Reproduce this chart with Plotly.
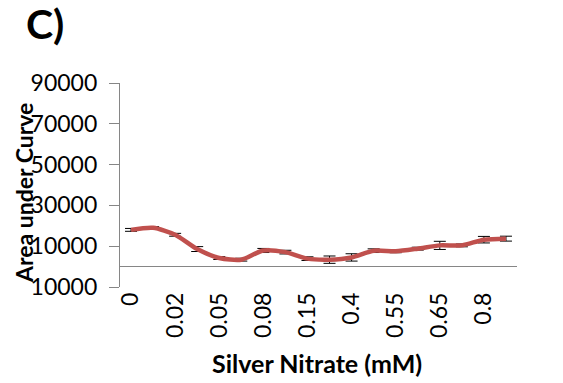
import plotly.graph_objects as go

# Silver nitrate concentrations (mM) and measured area under curve
concentrations = ["0", "0.01", "0.02", "0.03", "0.05", "0.06", "0.08", "0.1", "0.15",
                  "0.2", "0.4", "0.5", "0.55", "0.6", "0.65", "0.7", "0.8", "0.9"]
area = [18000, 19000, 15600, 8600, 4200, 3400, 7900, 7100, 3900,
        3400, 4500, 7800, 7500, 8800, 10400, 10400, 13200, 13700]
area_err = [700, 600, 700, 1200, 700, 700, 1000, 900, 900,
            1800, 1800, 900, 700, 700, 2000, 700, 1600, 1200]

# Only every second category is labelled on the x axis
shown_ticks = concentrations[::2]

y_tickvals = [-10000, 10000, 30000, 50000, 70000, 90000]
y_ticktext = ["10000", "10000", "30000", "50000", "70000", "90000"]

FONT = "Lato, 'Open Sans', sans-serif"
GREY = "#868686"

W, H = 563, 383
ML, MR, MT, MB = 120, 46, 83, 96
PW, PH = W - ML - MR, H - MT - MB


def px_x(x):
    return (x - ML) / PW


def px_y(y):
    return (H - MB - y) / PH


fig = go.Figure()
fig.add_trace(go.Scatter(
    x=concentrations,
    y=area,
    mode="lines",
    line=dict(color="#C0504D", width=4.5, shape="spline", smoothing=0.7),
    error_y=dict(type="data", array=area_err, visible=True,
                 color="#000000", thickness=1, width=6),
    showlegend=False,
))

fig.update_layout(
    width=W, height=H,
    margin=dict(l=ML, r=MR, t=MT, b=MB),
    paper_bgcolor="white",
    plot_bgcolor="white",
    font=dict(family=FONT, color="#000000"),
    xaxis=dict(
        type="category",
        categoryorder="array",
        categoryarray=concentrations,
        range=[-0.5, len(concentrations) - 0.5],
        tickmode="array",
        tickvals=shown_ticks,
        ticktext=shown_ticks,
        tickangle=-90,
        tickfont=dict(size=23, family=FONT),
        showgrid=False,
        showline=False,
        zeroline=False,
        ticks="",
    ),
    yaxis=dict(
        range=[-10000, 90000],
        tickmode="array",
        tickvals=y_tickvals,
        ticktext=y_ticktext,
        tickfont=dict(size=23, family=FONT),
        showgrid=False,
        showline=True,
        linecolor=GREY,
        linewidth=1.2,
        ticks="outside",
        ticklen=10,
        tickcolor=GREY,
        tickwidth=1.2,
        ticklabelstandoff=7,
        zeroline=True,
        zerolinecolor=GREY,
        zerolinewidth=1.2,
    ),
    annotations=[
        dict(text="<b>C)</b>", xref="paper", yref="paper",
             x=px_x(24), y=px_y(-3), xanchor="left", yanchor="top",
             showarrow=False, font=dict(size=41, family=FONT)),
        dict(text="<b>Area under Curve</b>", xref="paper", yref="paper",
             x=px_x(24), y=px_y(193), xanchor="center", yanchor="middle",
             textangle=-90, showarrow=False, font=dict(size=23, family=FONT)),
        dict(text="<b>Silver Nitrate (mM)</b>", xref="paper", yref="paper",
             x=px_x(317), y=px_y(363), xanchor="center", yanchor="middle",
             showarrow=False, font=dict(size=25, family=FONT)),
    ],
)

fig.write_html("out.html")
